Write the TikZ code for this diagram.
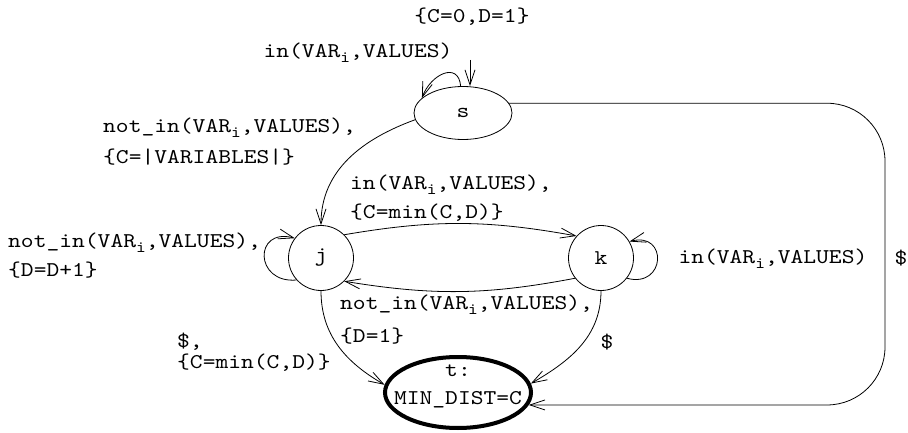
\documentclass[tikz,border=0pt]{standalone}
\usepackage{fontspec}
\setmonofont{lmmono10-regular.otf}[FakeStretch=1.16]
\usetikzlibrary{arrows.meta,positioning,shapes.geometric}
\newcommand{\varidx}{VAR\raisebox{-5pt}{\fontsize{16}{16}\selectfont i}}
\tikzset{
  st/.style={draw,circle,minimum size=65pt,inner sep=0pt,line width=0.8pt},
  oval/.style={draw,ellipse,inner sep=0pt,minimum width=98pt,
    minimum height=53pt,line width=0.8pt},
  fin/.style={draw,ellipse,inner xsep=-20pt,inner ysep=-10pt,minimum width=146pt,
    minimum height=71pt,line width=4pt,align=center},
  arr/.style={-{Straight Barb[length=15pt,width=10pt]},line width=0.8pt},
  lbl/.style={align=left,inner sep=0pt,anchor=north west},
}
\begin{document}
\begin{tikzpicture}[x=1pt,y=1pt,font=\ttfamily\fontsize{21}{24}\selectfont]
  \useasboundingbox (0,0) rectangle (908,432);
  % states
  \node[oval] (s) at (463,319) {s};
  \node[st] (j) at (321,174) {j};
  \node[st] (k) at (601,174) {k};
  \node[fin] (t) at (458,39.5) {t:\\[4pt]MIN\_DIST=C\rule[-16pt]{0pt}{1pt}};
  \coordinate (init) at (470,372);
  \coordinate (rside) at (885,0);
  % transitions
  \draw[arr] (init) -- (init |- s.north);
  \draw[arr] (s.95) to[out=95,in=70,looseness=1.6] (s.160);
  \draw[arr] (s.188) to[out=200,in=90] (j.north);
  \draw[arr] (j.45) to[bend left=10] (k.138);
  \draw[arr] (k.218) to[bend left=10] (j.315);
  \draw[arr] (j.222) to[out=185,in=165,looseness=2.6] (j.143);
  \draw[arr] (k.322) to[out=-15,in=15,looseness=2.8] (k.30);
  \draw[arr] (j.270) to[out=-90,in=150] (t.174);
  \draw[arr] (k.270) to[out=-90,in=30] (t.7);
  \draw[arr,rounded corners=58pt] (s.12) -| (rside |- t.-10) -- (t.-10);
  % labels
  \node (linit) at (472,415) {\{C=0,D=1\}};
  \node[anchor=base] (lss) at (358,374) {in(\varidx,VALUES)};
  \node[lbl] (lsj) at (103,314) {not\_in(\varidx,VALUES),\\[7pt]\{C=|VARIABLES|\}};
  \node[lbl] (ljk) at (350,257) {in(\varidx,VALUES),\\[5pt]\{C=min(C,D)\}};
  \node[lbl] (lkj) at (340,137) {not\_in(\varidx,VALUES),\\[9pt]\{D=1\}};
  \node[lbl] (ljj) at (8,199) {not\_in(\varidx,VALUES),\\[5pt]\{D=D+1\}};
  \node[anchor=base west] (lkk) at (675,169) {in(\varidx,VALUES)};
  \node[lbl] (ljt) at (177,99) {\$,\\[-3pt]\{C=min(C,D)\}};
  \node (lkt) at (607,90) {\$};
  \node (lst) at (901,174) {\$};
\end{tikzpicture}
\end{document}
